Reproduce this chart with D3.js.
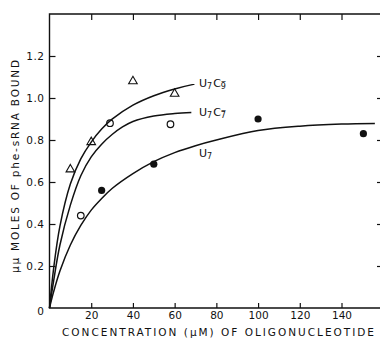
<!DOCTYPE html>
<html>
<head>
<meta charset="utf-8">
<script src="https://cdn.jsdelivr.net/npm/d3@7.9.0/dist/d3.min.js"></script>
<style>
  body { margin: 0; background: #fff; }
  text { font-family: "DejaVu Sans", sans-serif; fill: #111; }
</style>
</head>
<body>
<div id="chart"></div>
<script>
// measured points
const triX = [10, 20, 40, 60];
const triY = [0.66, 0.79, 1.08, 1.02];
const openX = [15, 29, 58];
const openY = [0.44, 0.88, 0.875];
const filledX = [25, 50, 100, 150.5];
const filledY = [0.56, 0.685, 0.90, 0.83];

// fitted curves
const c9X = [0, 2, 5, 10, 15, 20, 25, 30, 40, 50, 60, 69.5];
const c9Y = [0, 0.19, 0.39, 0.59, 0.71, 0.79, 0.852, 0.899, 0.966, 1.011, 1.043, 1.066];
const c7X = [0, 2, 5, 10, 15, 20, 25, 30, 35, 40, 50, 60, 68];
const c7Y = [0, 0.13, 0.30, 0.49, 0.63, 0.72, 0.78, 0.826, 0.862, 0.888, 0.914, 0.926, 0.931];
const u7X = [0, 2, 5, 10, 15, 20, 25, 30, 40, 50, 60, 70, 80, 100, 120, 140, 156];
const u7Y = [0, 0.078, 0.176, 0.30, 0.393, 0.466, 0.521, 0.569, 0.64, 0.697, 0.74, 0.773, 0.80, 0.845, 0.866, 0.876, 0.879];

const xTicks = [20, 40, 60, 80, 100, 120, 140];
const yTicks = [0, 0.2, 0.4, 0.6, 0.8, 1.0, 1.2];

const width = 381, height = 341;
const svg = d3.select('#chart').append('svg')
  .attr('width', width).attr('height', height);

const x = d3.scaleLinear().domain([0, 157.5]).range([49.5, 378]);
const y = d3.scaleLinear().domain([0, 1.4]).range([308, 14]);

const ink = '#111';

// frame: left, bottom, top (no right line)
svg.append('path')
  .attr('d', `M380,${y(1.4)}H${x(0)}V${y(0)}H380`)
  .attr('fill', 'none').attr('stroke', ink).attr('stroke-width', 1.4);

// bottom axis
const xAxis = d3.axisBottom(x).tickValues(xTicks).tickSize(-5).tickPadding(4);
const gx = svg.append('g').attr('transform', `translate(0,${y(0)})`).call(xAxis);
gx.select('.domain').remove();
gx.selectAll('line').attr('stroke', ink).attr('stroke-width', 1.2);
gx.selectAll('text').attr('font-size', 10.5).attr('dy', '0.71em');

// top ticks
svg.append('g').attr('transform', `translate(0,${y(1.4)})`)
  .call(d3.axisTop(x).tickValues(xTicks).tickSize(-6).tickFormat(''))
  .call(g => g.select('.domain').remove())
  .selectAll('line').attr('stroke', ink).attr('stroke-width', 1.2);

// left axis
const yAxis = d3.axisLeft(y).tickValues(yTicks).tickSize(-6).tickPadding(5)
  .tickFormat(d => d === 0 ? '0' : d.toFixed(1));
const gy = svg.append('g').attr('transform', `translate(${x(0)},0)`).call(yAxis);
gy.select('.domain').remove();
gy.selectAll('line').attr('stroke', ink).attr('stroke-width', 1.2);
gy.selectAll('text').attr('font-size', 10.5).attr('letter-spacing', 0.5);
gy.selectAll('.tick').filter(d => d === 0).select('line').remove();
gy.selectAll('.tick').filter(d => d === 0).select('text').attr('dy', '0.6em');

// right ticks
svg.append('g').attr('transform', 'translate(380,0)')
  .call(d3.axisRight(y).tickValues(yTicks.slice(1)).tickSize(-3).tickFormat(''))
  .call(g => g.select('.domain').remove())
  .selectAll('line').attr('stroke', ink).attr('stroke-width', 1.2);

// curves
const line = d3.line().x(d => x(d[0])).y(d => y(d[1])).curve(d3.curveCatmullRom);
[[c9X, c9Y], [c7X, c7Y], [u7X, u7Y]].forEach(([xs, ys]) => {
  svg.append('path')
    .datum(xs.map((v, i) => [v, ys[i]]))
    .attr('d', line)
    .attr('fill', 'none').attr('stroke', ink).attr('stroke-width', 1.5);
});

// markers
const tri = d3.symbol().type(d3.symbolTriangle).size(32);
svg.append('g').selectAll('path').data(triX.map((v, i) => [v, triY[i]])).join('path')
  .attr('d', tri)
  .attr('transform', d => `translate(${x(d[0])},${y(d[1])})`)
  .attr('fill', 'none').attr('stroke', ink).attr('stroke-width', 1.1);

svg.append('g').selectAll('circle').data(openX.map((v, i) => [v, openY[i]])).join('circle')
  .attr('cx', d => x(d[0])).attr('cy', d => y(d[1])).attr('r', 3.3)
  .attr('fill', 'none').attr('stroke', ink).attr('stroke-width', 1.2);

svg.append('g').selectAll('circle').data(filledX.map((v, i) => [v, filledY[i]])).join('circle')
  .attr('cx', d => x(d[0])).attr('cy', d => y(d[1])).attr('r', 3.6)
  .attr('fill', ink);

// curve labels
function curveLabel(px, py, sub) {
  const t = svg.append('text').attr('x', px).attr('y', py).attr('font-size', 11);
  t.append('tspan').text('U');
  t.append('tspan').attr('font-size', 8).attr('dy', 2).text('7');
  if (sub) {
    t.append('tspan').attr('dy', -2).attr('dx', 1).text('C');
    t.append('tspan').attr('font-size', 8).attr('dy', 2).text(sub + '\u0305');
  }
}
curveLabel(199, 87, '9');
curveLabel(199, 116, '7');
curveLabel(199, 157, null);

// axis titles
svg.append('text')
  .attr('x', 62).attr('y', 336)
  .attr('font-size', 10.5)
  .attr('textLength', 312).attr('lengthAdjust', 'spacing')
  .text('CONCENTRATION (\u03bcM) OF OLIGONUCLEOTIDE');

svg.append('text')
  .attr('transform', 'translate(19,273) rotate(-90)')
  .attr('font-size', 10.5)
  .attr('textLength', 213).attr('lengthAdjust', 'spacing')
  .text('\u03bc\u03bc MOLES OF phe-sRNA BOUND');
</script>
</body>
</html>
